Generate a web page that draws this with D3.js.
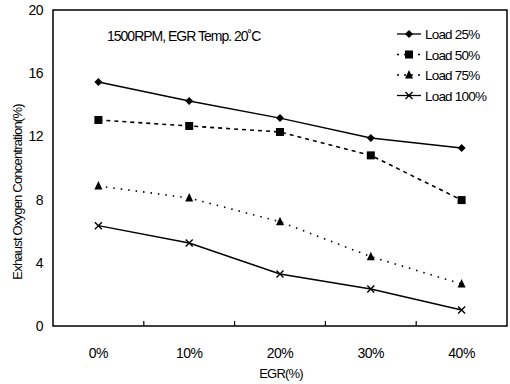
<!DOCTYPE html>
<html>
<head>
<meta charset="utf-8">
<script src="https://cdn.jsdelivr.net/npm/d3@7"></script>
<style>
  body { margin: 0; background: #fff; }
  text { font-family: "Liberation Sans Narrow", "Liberation Sans", Arial, sans-serif; fill: #000; }
</style>
</head>
<body>
<div class="chart"></div>
<script>
var categories = ['0%', '10%', '20%', '30%', '40%']
var load25 = [15.44, 14.24, 13.16, 11.9, 11.27]
var load50 = [13.04, 12.66, 12.28, 10.8, 7.97]
var load75 = [8.86, 8.1, 6.6, 4.39, 2.66]
var load100 = [6.35, 5.25, 3.29, 2.34, 1.01]
var seriesNames = ['Load 25%', 'Load 50%', 'Load 75%', 'Load 100%']
var yTicks = [0, 4, 8, 12, 16, 20]

var width = 510, height = 384
var margin = { top: 10, right: 3, bottom: 58, left: 53 }

var series = [
    { name: seriesNames[0], values: load25, dash: null, marker: 'diamond' },
    { name: seriesNames[1], values: load50, dash: '4,4', marker: 'square' },
    { name: seriesNames[2], values: load75, dash: '1.5,6', marker: 'triangle' },
    { name: seriesNames[3], values: load100, dash: null, marker: 'cross' }
]

var x = d3.scaleBand()
    .domain(categories)
    .range([margin.left, width - margin.right])

var y = d3.scaleLinear()
    .domain([0, 20])
    .range([height - margin.bottom, margin.top])

var line = d3.line()
    .x((d, i) => x(categories[i]) + x.bandwidth() / 2)
    .y(d => y(d))

function marker(sel, type) {
    if (type == 'diamond') {
        sel.append('path').attr('d', 'M0,-4L4,0L0,4L-4,0Z').attr('fill', '#000')
    } else if (type == 'square') {
        sel.append('rect').attr('x', -4).attr('y', -4).attr('width', 8).attr('height', 8).attr('fill', '#000')
    } else if (type == 'triangle') {
        sel.append('path').attr('d', 'M0,-5L4,3.5L-4,3.5Z').attr('fill', '#000')
    } else {
        sel.append('path').attr('d', 'M-3.5,-3.5L3.5,3.5M3.5,-3.5L-3.5,3.5').attr('stroke', '#000').attr('stroke-width', 1.4)
    }
}

var svg = d3.select('.chart')
    .append('svg')
    .attr('width', width)
    .attr('height', height)

// frame
svg.append('rect')
    .attr('x', margin.left)
    .attr('y', margin.top)
    .attr('width', width - margin.left - margin.right)
    .attr('height', height - margin.top - margin.bottom)
    .attr('fill', 'none')
    .attr('stroke', '#000')
    .attr('stroke-width', 1.5)

// x ticks (between categories, pointing inward)
svg.selectAll('.xtick')
    .data(categories.slice(1))
    .join('line')
    .attr('class', 'xtick')
    .attr('x1', d => x(d))
    .attr('x2', d => x(d))
    .attr('y1', y(0))
    .attr('y2', y(0) - 5)
    .attr('stroke', '#000')
    .attr('stroke-width', 1.2)

svg.selectAll('.xlabel')
    .data(categories)
    .join('text')
    .attr('class', 'xlabel')
    .attr('x', d => x(d) + x.bandwidth() / 2)
    .attr('y', 358)
    .attr('text-anchor', 'middle')
    .style('font-size', '14px')
    .style('letter-spacing', '-0.5px')
    .text(d => d)

svg.selectAll('.ylabel')
    .data(yTicks)
    .join('text')
    .attr('class', 'ylabel')
    .attr('x', 43)
    .attr('y', d => y(d) + 5)
    .attr('text-anchor', 'end')
    .style('font-size', '14px')
    .style('letter-spacing', '-0.5px')
    .text(d => d)

// axis titles
svg.append('text')
    .attr('x', 281)
    .attr('y', 378)
    .attr('text-anchor', 'middle')
    .style('font-size', '13px')
    .style('letter-spacing', '-0.8px')
    .text('EGR(%)')

svg.append('text')
    .attr('transform', 'translate(22,192) rotate(-90)')
    .attr('text-anchor', 'middle')
    .style('font-size', '13px')
    .style('letter-spacing', '-0.8px')
    .text('Exhaust Oxygen Concentration(%)')

svg.append('text')
    .attr('x', 107)
    .attr('y', 41)
    .style('font-size', '14px')
    .style('letter-spacing', '-1px')
    .text('1500RPM, EGR Temp. 20\u02daC')

// series
var g = svg.selectAll('.series')
    .data(series)
    .join('g')
    .attr('class', 'series')

g.append('path')
    .attr('d', d => line(d.values))
    .attr('fill', 'none')
    .attr('stroke', '#000')
    .attr('stroke-width', d => d.dash ? 1.6 : 1.4)
    .attr('stroke-dasharray', d => d.dash)

g.each(function (d) {
    d3.select(this).selectAll('.pt')
        .data(d.values)
        .join('g')
        .attr('class', 'pt')
        .attr('transform', (v, i) => 'translate(' + (x(categories[i]) + x.bandwidth() / 2) + ',' + y(v) + ')')
        .each(function () { marker(d3.select(this), d.marker) })
})

// legend
var legend = svg.selectAll('.legend')
    .data(series)
    .join('g')
    .attr('class', 'legend')
    .attr('transform', (d, i) => 'translate(397,' + (34 + i * 20.5) + ')')

legend.append('line')
    .attr('x1', 0)
    .attr('x2', 24)
    .attr('stroke', '#000')
    .attr('stroke-width', 1.3)
    .attr('stroke-dasharray', d => d.dash ? '2,5' : null)

legend.append('g')
    .attr('transform', 'translate(12,0)')
    .each(function (d) { marker(d3.select(this), d.marker) })

legend.append('text')
    .attr('x', 28)
    .attr('y', 5)
    .style('font-size', '13.5px')
    .style('letter-spacing', '-0.8px')
    .text(d => d.name)
</script>
</body>
</html>
